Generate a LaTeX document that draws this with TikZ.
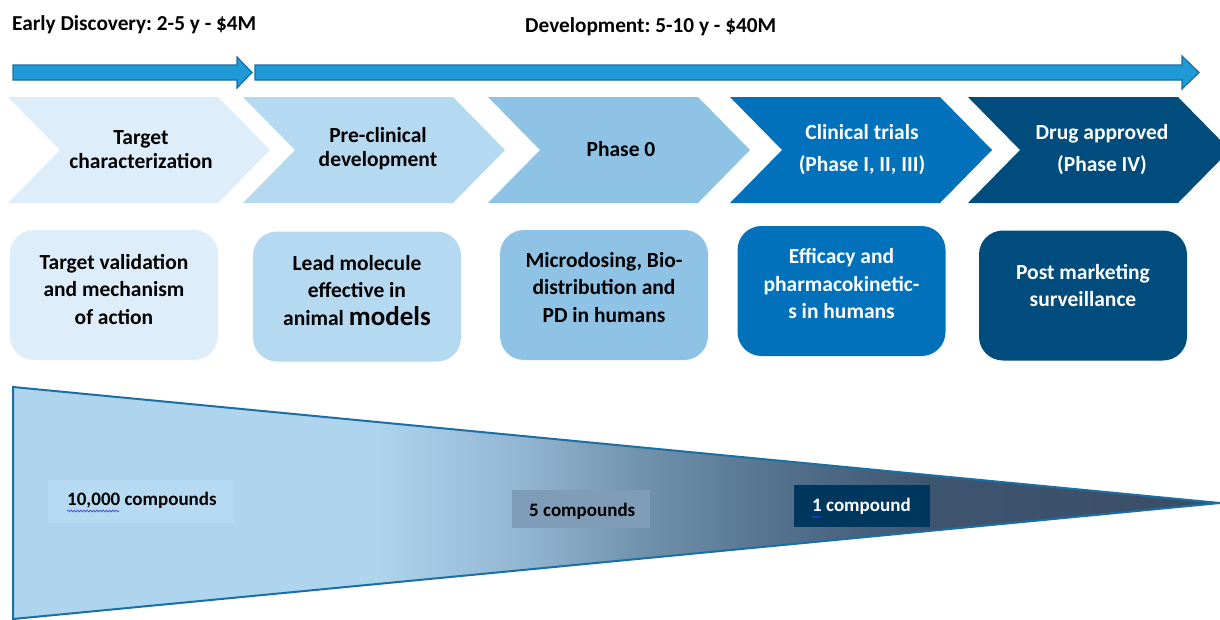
\documentclass[tikz,border=0pt]{standalone}
\usepackage{fontspec}
\setmainfont{Carlito}
\frenchspacing
\usetikzlibrary{decorations.pathmorphing}

\definecolor{arrowfill}{HTML}{1F9AD6}
\definecolor{arrowline}{HTML}{176FA2}
\definecolor{stageA}{HTML}{DDEEFA}
\definecolor{stageB}{HTML}{B5D9F1}
\definecolor{stageC}{HTML}{8EC3E6}
\definecolor{stageD}{HTML}{0071BA}
\definecolor{stageE}{HTML}{004C7D}
\definecolor{funnelline}{HTML}{1A6FA3}
\definecolor{fnA}{HTML}{AED4EE}
\definecolor{fnB}{HTML}{93B6D2}
\definecolor{fnC}{HTML}{7192AD}
\definecolor{fnD}{HTML}{52708C}
\definecolor{fnE}{HTML}{3E5570}
\definecolor{fnF}{HTML}{3A4D66}
\definecolor{lblA}{HTML}{B6DAF2}
\definecolor{lblB}{HTML}{7F9CB8}
\definecolor{lblC}{HTML}{00375E}
\definecolor{spell}{HTML}{3A3AE6}

% horizontal colour ramp of the funnel (25bp..75bp spans the shape)
\pgfdeclarehorizontalshading{funnelramp}{100bp}{%
  color(0bp)=(fnA); color(40bp)=(fnA); color(46bp)=(fnB);
  color(51bp)=(fnC); color(57bp)=(fnD); color(63bp)=(fnE);
  color(75bp)=(fnF); color(100bp)=(fnF)}

\tikzset{
  blockarrow/.style={fill=arrowfill, draw=arrowline, line width=1.2},
  stagetext/.style={align=center, inner sep=0, font=\bfseries\fontsize{21.5}{24}\selectfont},
  stagetextwide/.style={align=center, inner sep=0, font=\bfseries\fontsize{21.5}{32.5}\selectfont},
  stepcard/.style={rounded corners=24, minimum width=208, minimum height=130, inner sep=0},
  cardtext/.style={align=center, inner sep=0, font=\bfseries\fontsize{21.5}{27.5}\selectfont},
  headtext/.style={anchor=west, inner sep=0, font=\bfseries\fontsize{21.3}{24}\selectfont},
  counttext/.style={anchor=west, inner sep=0, font=\bfseries\fontsize{19}{22}\selectfont},
  wavy/.style={draw=spell, line width=0.6, decorate,
    decoration={snake, amplitude=0.9, segment length=3.2}}
}

\begin{document}
\begin{tikzpicture}[x=1pt, y=-1pt]
\useasboundingbox (0,0) rectangle (1220,619);

% phase headings
\node[headtext] (early) at (12,25) {Early Discovery: 2-5 y - \$4M};
\node[headtext] (devel) at (525,27) {Development: 5-10 y - \$40M};

% time arrows
\draw[blockarrow] (13,65) -- (237,65) -- (237,57) -- (252,72.5) -- (237,88)
  -- (237,80) -- (13,80) -- cycle;
\draw[blockarrow] (255,65) -- (1182,65) -- (1182,56) -- (1199,72.5) -- (1182,89)
  -- (1182,80) -- (255,80) -- cycle;

% stage chevrons
\foreach \L/\c in {8/stageA, 243/stageB, 488/stageC, 730/stageD, 968/stageE}{
  \fill[\c] (\L,97) -- ++(210,0) -- ++(52,53) -- ++(-52,53) -- ++(-210,0)
    -- ++(52,-53) -- cycle;
}
\node[stagetext] (s1) at (141,150) {Target\\characterization};
\node[stagetext] (s2) at (378,149) {Pre-clinical\\development};
\node[stagetext] (s3) at (621,149) {Phase 0};
\node[stagetextwide, text=white] (s4) at (862,149.5) {Clinical trials\\(Phase I, II, III)};
\node[stagetextwide, text=white] (s5) at (1102,149.5) {Drug approved\\(Phase IV)};

% stage cards
\node[stepcard, fill=stageA] (c1) at (114,295) {};
\node[stepcard, fill=stageB] (c2) at (357,296.5) {};
\node[stepcard, fill=stageC] (c3) at (604,295) {};
\node[stepcard, fill=stageD] (c4) at (841.5,291) {};
\node[stepcard, fill=stageE] (c5) at (1083,295.5) {};

\node[cardtext] (c1t) at (114,289.5) {Target validation\\and mechanism\\of action};
\node[cardtext] (c2t) at (357,290.5) {Lead molecule\\effective in\\animal {\fontsize{27}{27.5}\selectfont models}};
\node[cardtext] (c3t) at (604,287.5) {Microdosing, Bio-\\distribution and\\PD in humans};
\node[cardtext, text=white] (c4t) at (841.5,284) {Efficacy and\\pharmacokinetic-\\s in humans};
\node[cardtext, text=white] (c5t) at (1083,285.5) {Post marketing\\surveillance};

% attrition funnel
\shade[shading=funnelramp, draw=funnelline, line width=2]
  (13,387) -- (1220,503) -- (13,619) -- cycle;

% compound counts
\fill[lblA] (48,480) rectangle (233,523);
\node[counttext] (n1) at (67,500) {10,000 compounds};
\fill[lblB] (512,490) rectangle (650,528);
\node[counttext] (n2) at (529,511) {5 compounds};
\fill[lblC] (794,485) rectangle (930,527);
\node[counttext, text=white] (n3) at (812,506) {1 compound};

% spell-check squiggles
\coordinate (w1a) at (67,511);
\coordinate (w1b) at (119,511);
\coordinate (w2a) at (812,517);
\coordinate (w2b) at (821,517);
\draw[wavy] (w1a) -- (w1b);
\draw[wavy] (w2a) -- (w2b);
\end{tikzpicture}
\end{document}
